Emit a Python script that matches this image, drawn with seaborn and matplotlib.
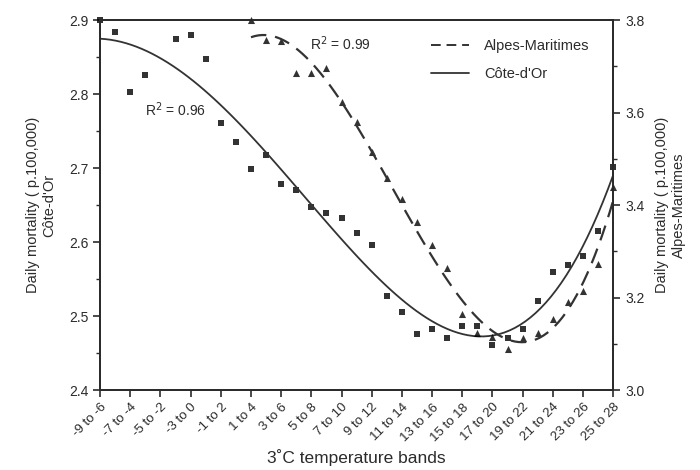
import matplotlib
matplotlib.use("Agg")
import matplotlib.pyplot as plt
import seaborn as sns
import pandas as pd
from matplotlib.ticker import MultipleLocator, FormatStrFormatter
from matplotlib.lines import Line2D

# ---------------- data ----------------
band_labels = ["-9 to -6", "-7 to -4", "-5 to -2", "-3 to 0", "-1 to 2", "1 to 4",
               "3 to 6", "5 to 8", "7 to 10", "9 to 12", "11 to 14", "13 to 16",
               "15 to 18", "17 to 20", "19 to 22", "21 to 24", "23 to 26", "25 to 28"]
band_centres = [-7.5, -5.5, -3.5, -1.5, 0.5, 2.5, 4.5, 6.5, 8.5, 10.5, 12.5, 14.5,
                16.5, 18.5, 20.5, 22.5, 24.5, 26.5]

cote_temp = [-7.5, -6.5, -5.5, -4.5, -2.5, -1.5, -0.5, 0.5, 1.5, 2.5, 3.5, 4.5, 5.5,
             6.5, 7.5, 8.5, 9.5, 10.5, 11.5, 12.5, 13.5, 14.5, 15.5, 16.5, 17.5,
             18.5, 19.5, 20.5, 21.5, 22.5, 23.5, 24.5, 25.5, 26.5]
cote_mort = [2.900, 2.884, 2.803, 2.826, 2.875, 2.880, 2.848, 2.761, 2.736, 2.699,
             2.718, 2.678, 2.670, 2.648, 2.640, 2.632, 2.612, 2.596, 2.527, 2.506,
             2.476, 2.482, 2.471, 2.486, 2.487, 2.461, 2.471, 2.482, 2.520, 2.559,
             2.569, 2.581, 2.615, 2.702]

alpes_temp = [2.5, 3.5, 4.5, 5.5, 6.5, 7.5, 8.5, 9.5, 10.5, 11.5, 12.5, 13.5, 14.5,
              15.5, 16.5, 17.5, 18.5, 19.5, 20.5, 21.5, 22.5, 23.5, 24.5, 25.5, 26.5]
alpes_mort = [3.800, 3.758, 3.755, 3.686, 3.686, 3.697, 3.623, 3.580, 3.515, 3.458,
              3.413, 3.364, 3.314, 3.263, 3.164, 3.123, 3.115, 3.088, 3.113, 3.123,
              3.153, 3.191, 3.215, 3.272, 3.440]

r2_cote = "R$^2$ = 0.96"
r2_alpes = "R$^2$ = 0.99"

cote = pd.DataFrame({"temp": cote_temp, "mort": cote_mort})
alpes = pd.DataFrame({"temp": alpes_temp, "mort": alpes_mort})

# ---------------- style ----------------
sns.set_theme(style="ticks")
plt.rcParams["font.family"] = ["Liberation Sans", "DejaVu Sans"]
ink = "#2b2b2b"
plt.rcParams.update({
    "axes.edgecolor": ink, "axes.linewidth": 1.3,
    "xtick.color": ink, "ytick.color": ink,
    "text.color": ink, "axes.labelcolor": ink,
    "xtick.major.width": 1.2, "ytick.major.width": 1.2,
    "ytick.minor.width": 1.0,
})

fig = plt.figure(figsize=(7.0, 4.7), dpi=100)
ax = fig.add_axes([0.143, 0.170, 0.733, 0.787])
ax2 = ax.twinx()

# Côte-d'Or (left axis)
sns.regplot(data=cote, x="temp", y="mort", order=4, ci=None, ax=ax, marker="s",
            scatter_kws=dict(s=22, color="black", linewidths=0, clip_on=False),
            line_kws=dict(color="#333333", lw=1.3))
# Alpes-Maritimes (right axis)
sns.regplot(data=alpes, x="temp", y="mort", order=3, ci=None, ax=ax2, marker="^",
            scatter_kws=dict(s=26, color="black", linewidths=0, clip_on=False),
            line_kws=dict(color="#333333", lw=1.6, ls=(0, (7, 4))))

ax.set_xlim(-7.5, 26.5)
ax.set_ylim(2.4, 2.9)
ax2.set_ylim(3.0, 3.8)

ax.set_xticks(band_centres)
ax.set_xticklabels(band_labels, rotation=45, ha="right", rotation_mode="anchor", fontsize=9.5)
ax.yaxis.set_major_locator(MultipleLocator(0.1))
ax.yaxis.set_minor_locator(MultipleLocator(0.05))
ax2.yaxis.set_major_locator(MultipleLocator(0.2))
ax2.yaxis.set_minor_locator(MultipleLocator(0.1))
ax.tick_params(axis="y", which="major", length=5, labelsize=10)
ax.tick_params(axis="y", which="minor", length=3)
ax.tick_params(axis="x", length=5, pad=3)
ax2.tick_params(axis="y", which="major", length=5, labelsize=10)
ax2.tick_params(axis="y", which="minor", length=3)
ax.yaxis.set_major_formatter(FormatStrFormatter("%.1f"))
ax2.yaxis.set_major_formatter(FormatStrFormatter("%.1f"))

for a in (ax, ax2):
    for s in a.spines.values():
        s.set_visible(True)

ax.set_xlabel("3˚C temperature bands", fontsize=12.5, labelpad=4)
ax.set_ylabel("Daily mortality ( p.100,000)\nCôte-d'Or", fontsize=10.5, labelpad=9)
ax2.set_ylabel("Daily mortality ( p.100,000)\nAlpes-Maritimes", fontsize=10.5,
               rotation=90, labelpad=8)

ax.text(-4.5, 2.77, r2_cote, fontsize=10)
ax2.text(6.4, 3.735, r2_alpes, fontsize=10)

handles = [Line2D([], [], color="#333333", lw=1.4, ls=(0, (5, 3))),
           Line2D([], [], color="#333333", lw=1.3)]
ax2.legend(handles, ["Alpes-Maritimes", "Côte-d'Or"], loc="upper left",
           bbox_to_anchor=(0.62, 0.985), frameon=False, fontsize=10.5,
           handlelength=2.6, handletextpad=1.0, labelspacing=0.95)

fig.savefig("out.png", dpi=100)
